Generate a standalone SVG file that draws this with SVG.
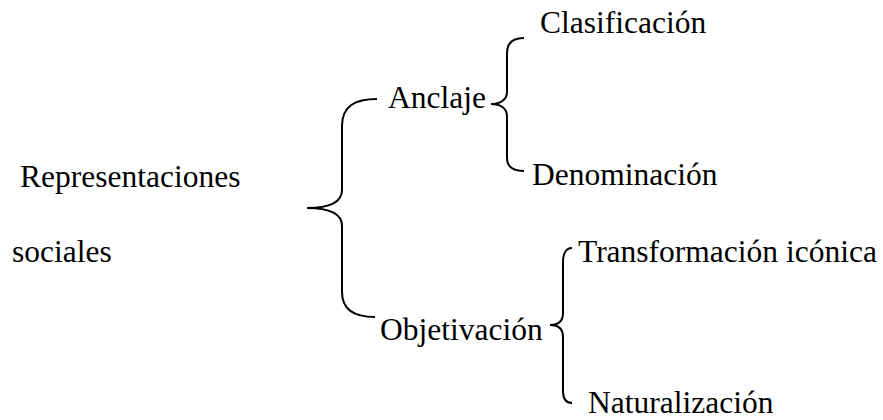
<svg xmlns="http://www.w3.org/2000/svg" width="883" height="420" viewBox="0 0 883 420">
  <style>
    .lbl { font-family: "Liberation Serif", "Times New Roman", serif; font-size: 31.5px; fill: #000; }
    .brace { fill: none; stroke: #000; stroke-width: 2; stroke-linecap: butt; }
  </style>
  <rect width="883" height="420" fill="#fff"/>

  <!-- curly-brace connectors -->
  <g id="connectors">
    <path class="brace" d="M377,99 C355,99 342,106 342,126 L342,190 C342,202 330,208 307,208 C330,208 342,214 342,226 L342,292 C342,310 355,317 375,317"/>
    <path class="brace" d="M524,38 C512,38 507,44 507,53 L507,92 C507,100 500,104 491,104 C500,104 507,108 507,116 L507,158 C507,166 512,171 524,171"/>
    <path class="brace" d="M572,248 C566,248 563,254 563,262 L563,313 C563,321 558,325 550,325 C558,325 563,329 563,337 L563,391 C563,399 566,403 572,403"/>
  </g>

  <g id="root">
    <text class="lbl" x="20" y="187">Representaciones</text>
    <text class="lbl" x="12" y="262">sociales</text>
  </g>
  <g id="anclaje">
    <text class="lbl" x="388" y="108">Anclaje</text>
  </g>
  <g id="clasificacion">
    <text class="lbl" x="540" y="33">Clasificación</text>
  </g>
  <g id="denominacion">
    <text class="lbl" x="532" y="185">Denominación</text>
  </g>
  <g id="objetivacion">
    <text class="lbl" x="380" y="340">Objetivación</text>
  </g>
  <g id="transformacion">
    <text class="lbl" x="578" y="262">Transformación icónica</text>
  </g>
  <g id="naturalizacion">
    <text class="lbl" x="588" y="413">Naturalización</text>
  </g>
</svg>
